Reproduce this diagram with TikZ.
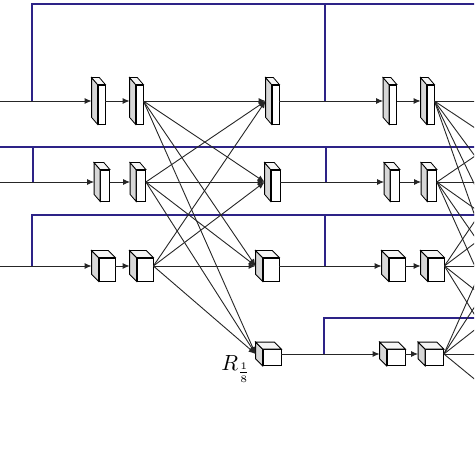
\documentclass[tikz,border=0pt]{standalone}
\usepackage{tikz}
\usetikzlibrary{calc, arrows.meta}

\definecolor{skipblue}{RGB}{45,35,135}
\definecolor{sidegray}{RGB}{215,215,215}

% side and top faces of a block, plus its in/out points
\newcommand{\depthfaces}[3]{%
  \draw[fill=sidegray] (#1.north west) -- ++(-#2,-#3) -- ($(#1.south west)+(-#2,-#3)$) -- (#1.south west) -- cycle;
  \draw[fill=gray!8] (#1.north west) -- ++(-#2,-#3) -- ($(#1.north east)+(-#2,-#3)$) -- (#1.north east) -- cycle;
  \coordinate (#1-in) at ($(#1.west)+(-#2,-0.5*#3)$);
  \coordinate (#1-out) at ($(#1.east)+(0,-0.5*#3)$);
}

\begin{document}
\begin{tikzpicture}[
    x=0.5pt, y=-0.5pt,
    flow/.style={draw=black!85, line width=0.45pt, -{Latex[length=3.5pt,width=3pt]}},
    plain/.style={draw=black!85, line width=0.45pt},
    skip/.style={draw=skipblue, line width=1pt},
    slabA/.style={rectangle, draw, fill=white, inner sep=0pt, minimum width=3.5pt, minimum height=19.5pt},
    slabB/.style={rectangle, draw, fill=white, inner sep=0pt, minimum width=4.5pt, minimum height=15.5pt},
    cubeC/.style={rectangle, draw, fill=white, inner sep=0pt, minimum width=8pt, minimum height=11.5pt},
    cubeD/.style={rectangle, draw, fill=white, inner sep=0pt, minimum width=9pt, minimum height=8pt}
]
\useasboundingbox (0,0) rectangle (474,474);
\clip (0,0) rectangle (474,474);

% Row 1
\node[slabA] (a1) at (101.5,104.5) {}; \depthfaces{a1}{6}{7}
\node[slabA] (a2) at (139.5,104.5) {}; \depthfaces{a2}{6}{7}
\node[slabA] (a3) at (275.5,104.5) {}; \depthfaces{a3}{6}{7}
\node[slabA] (a4) at (393,104.5) {};   \depthfaces{a4}{6}{7}
\node[slabA] (a5) at (430.5,104.5) {}; \depthfaces{a5}{6}{7}

% Row 2
\node[slabB] (b1) at (105,185.5) {};   \depthfaces{b1}{6}{7}
\node[slabB] (b2) at (141,185.5) {};   \depthfaces{b2}{6}{7}
\node[slabB] (b3) at (275.5,185.5) {}; \depthfaces{b3}{6}{7}
\node[slabB] (b4) at (395,185.5) {};   \depthfaces{b4}{6}{7}
\node[slabB] (b5) at (432,185.5) {};   \depthfaces{b5}{6}{7}

% Row 3
\node[cubeC] (c1) at (107,269.5) {}; \depthfaces{c1}{7}{7}
\node[cubeC] (c2) at (145,269.5) {}; \depthfaces{c2}{7}{7}
\node[cubeC] (c3) at (271,269.5) {}; \depthfaces{c3}{7}{7}
\node[cubeC] (c4) at (397,269.5) {}; \depthfaces{c4}{7}{7}
\node[cubeC] (c5) at (436,269.5) {}; \depthfaces{c5}{7}{7}

% Row 4
\node[cubeD] (d1) at (272,357.5) {};   \depthfaces{d1}{7}{7}
\node[cubeD] (d2) at (396,357.5) {};   \depthfaces{d2}{7}{7}
\node[cubeD] (d3) at (434.5,357.5) {}; \depthfaces{d3}{7}{7}

\node (r8) at (236,369) {\fontsize{11}{13}\selectfont $R_{\frac{1}{8}}$};

% Inputs from the left and targets off the right
\coordinate (p1) at (-5,101);
\coordinate (p2) at (-5,182);
\coordinate (p3) at (-5,266);
\coordinate (n1) at (556,101);
\coordinate (n2) at (556,182);
\coordinate (n3) at (556,266);
\coordinate (n4) at (556,354);
\coordinate (n5) at (556,446);

% Skip lines
\coordinate (t1) at (480,4);
\coordinate (t2l) at (-5,147);
\coordinate (t2) at (480,147);
\coordinate (t3) at (480,215);
\coordinate (t4) at (480,318);
\coordinate (j1) at (32,101);
\coordinate (j2) at (325,101);
\coordinate (j3) at (33,182);
\coordinate (j4) at (326,182);
\coordinate (j5) at (32,266);
\coordinate (j6) at (325,266);
\coordinate (j7) at (324,354);
\draw[skip] (j1) |- (t1);
\draw[skip] (j2) -- (j2 |- t1);
\draw[skip] (t2l) -- (t2);
\draw[skip] (j3) -- (j3 |- t2);
\draw[skip] (j4) -- (j4 |- t2);
\draw[skip] (j5) |- (t3);
\draw[skip] (j6) -- (j6 |- t3);
\draw[skip] (j7) |- (t4);

% Row flows
\draw[flow] (p1) -- (a1-in);
\draw[flow] (a1-out) -- (a2-in);
\draw[flow] (a3-out) -- (a4-in);
\draw[flow] (a4-out) -- (a5-in);
\draw[flow] (p2) -- (b1-in);
\draw[flow] (b1-out) -- (b2-in);
\draw[flow] (b3-out) -- (b4-in);
\draw[flow] (b4-out) -- (b5-in);
\draw[flow] (p3) -- (c1-in);
\draw[flow] (c1-out) -- (c2-in);
\draw[flow] (c3-out) -- (c4-in);
\draw[flow] (c4-out) -- (c5-in);
\draw[flow] (d1-out) -- (d2-in);
\draw[flow] (d2-out) -- (d3-in);

% Exchange units
\foreach \s in {a2,b2,c2}
  \foreach \t in {a3,b3,c3,d1}
    \draw[flow] (\s-out) -- (\t-in);
\foreach \s in {a5,b5,c5,d3}
  \foreach \t in {n1,n2,n3,n4,n5}
    \draw[plain] (\s-out) -- (\t);

\end{tikzpicture}
\end{document}
